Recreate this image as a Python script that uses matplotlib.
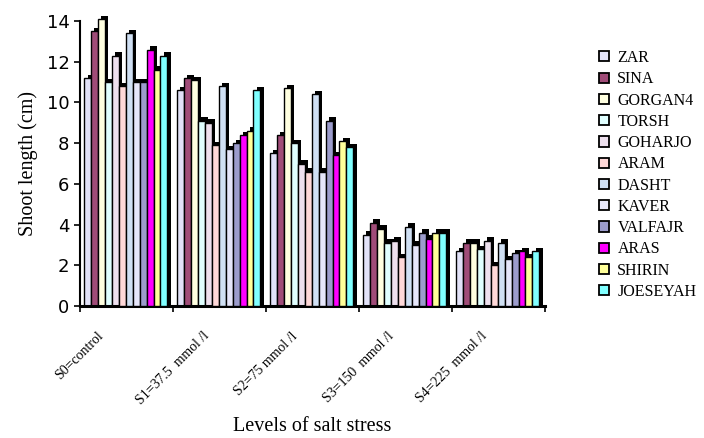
import numpy as np
import matplotlib
matplotlib.use('Agg')
import matplotlib.pyplot as plt
from matplotlib.patches import Patch

plt.rcParams['font.family'] = 'Liberation Serif'

# Varietes de ble et niveaux de salinite
varieties = ['ZAR', 'SINA', 'GORGAN4', 'TORSH', 'GOHARJO', 'ARAM',
             'DASHT', 'KAVER', 'VALFAJR', 'ARAS', 'SHIRIN', 'JOESEYAH']
levels = ['S0=control', 'S1=37.5  mmol /l', 'S2=75 mmol /l',
          'S3=150  mmol /l', 'S4=225  mmol /l']

# Longueur des tiges (cm) par niveau, dans l'ordre des varietes
s0 = [11.2, 13.5, 14.1, 11.0, 12.3, 10.8, 13.4, 11.0, 11.0, 12.6, 11.6, 12.3]
s1 = [10.6, 11.2, 11.1, 9.1, 9.0, 7.9, 10.8, 7.7, 8.0, 8.4, 8.6, 10.6]
s2 = [7.5, 8.4, 10.7, 8.0, 7.0, 6.6, 10.4, 6.6, 9.1, 7.4, 8.1, 7.8]
s3 = [3.5, 4.1, 3.8, 3.1, 3.2, 2.4, 3.9, 3.0, 3.6, 3.3, 3.6, 3.6]
s4 = [2.7, 3.1, 3.1, 2.8, 3.2, 2.0, 3.1, 2.3, 2.6, 2.7, 2.4, 2.7]

colors = ['#E2E2F8', '#A04C78', '#FFFFE0', '#E0FFFF', '#EEE0EE', '#FFD8D8',
          '#D0E0F4', '#E6E6FA', '#9C9CCC', '#FF00FF', '#FFFF99', '#80FFFF']

shoot = np.array([s0, s1, s2, s3, s4])

fig, ax = plt.subplots(figsize=(7.04, 4.38), dpi=100)
fig.subplots_adjust(left=0.1136, right=0.774, bottom=0.3014, top=0.952)

# barres pseudo-3D : ombre noire decalee puis face avant coloree
w = 0.0748
dx, dy = 0.038, 0.17
for g in range(len(levels)):
    for i, v in enumerate(shoot[g]):
        x = g + 0.043 + i * w
        ax.bar(x + dx, v + dy, width=w, align='edge', color='black',
               zorder=2 + i * 0.1, clip_on=False)
        ax.bar(x, v, width=w, align='edge', color=colors[i],
               edgecolor='black', linewidth=1.0, zorder=2.05 + i * 0.1,
               clip_on=False)

ax.set_xlim(0, len(levels))
ax.set_ylim(0, 14)
ax.set_yticks(range(0, 15, 2))
ax.set_xticks(range(len(levels) + 1))
ax.set_xticklabels(levels + [''], rotation=45, ha='center', fontsize=10)

for lab in ax.get_yticklabels():
    lab.set_family('DejaVu Sans')
    lab.set_fontsize(13)

ax.spines['top'].set_visible(False)
ax.spines['right'].set_visible(False)
ax.spines['left'].set_linewidth(1.5)
ax.spines['bottom'].set_linewidth(2.2)
ax.tick_params(axis='both', direction='out', length=4, width=1.2)
ax.tick_params(axis='x', pad=13)

ax.set_ylabel('Shoot length (cm)', fontsize=14.5, labelpad=6)
ax.set_xlabel('Levels of salt stress', fontsize=14.5, labelpad=7)

handles = [Patch(facecolor=c, edgecolor='black', linewidth=1.3) for c in colors]
fig.legend(handles, varieties, loc='upper left',
           bbox_to_anchor=(599 / 704, 1 - 50 / 438), frameon=False,
           prop=dict(family='Liberation Serif', size=11.5),
           handlelength=0.6, handleheight=0.6, handletextpad=0.55,
           labelspacing=0.33, borderpad=0, borderaxespad=0)

fig.savefig('out.png', dpi=100)
